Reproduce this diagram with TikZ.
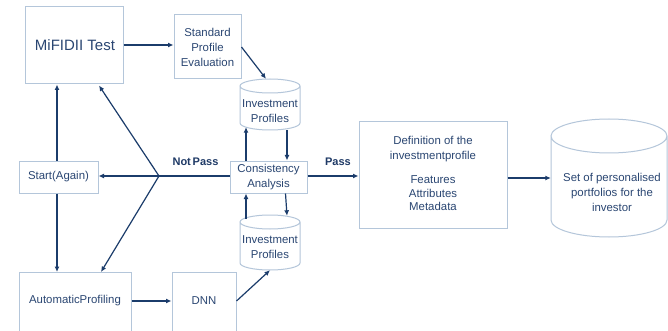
\documentclass[tikz,border=0pt]{standalone}
\usepackage{fontspec}
\setmainfont{Liberation Sans}
\usetikzlibrary{arrows.meta,calc}
\definecolor{bordercol}{HTML}{B4C6DA}
\definecolor{arrowcol}{HTML}{1B3C6B}
\definecolor{textcol}{HTML}{2A4672}
\definecolor{labcol}{HTML}{1F3A66}
\tikzset{
  box/.style={draw=bordercol, line width=1pt, fill=white, inner sep=0pt},
  txt/.style={text=textcol, align=center, inner sep=0pt, font=\fontsize{11.4}{15}\selectfont},
  bigtxt/.style={text=textcol, align=center, inner sep=0pt, font=\fontsize{15}{18}\selectfont},
  lab/.style={text=labcol, inner sep=0pt, font=\fontsize{11}{13}\selectfont\bfseries},
  cylarea/.style={inner sep=0pt},
  cyl/.style={draw=bordercol, line width=1pt, fill=white},
  arr/.style={draw=arrowcol, line width=1.2pt, -{Latex[length=5.5pt,width=5pt]}},
  ln/.style={draw=arrowcol, line width=1.2pt},
}
\begin{document}
\begin{tikzpicture}[x=1pt,y=1pt]
\useasboundingbox (0,0) rectangle (668,-331);
\clip (0,0) rectangle (668,-331);
\fill[white] (0,0) rectangle (668,-331);

% boxes
\node[box, minimum width=98, minimum height=77] (mifid) at (74,-45.5) {};
\node[bigtxt] (mifidt) at (75,-45) {MiFIDII Test};
\node[box, minimum width=67, minimum height=64, txt] (std) at (207.5,-47) {Standard\\Profile\\Evaluation};
\node[box, minimum width=79, minimum height=32, txt] (start) at (58.5,-177) {Start(Again)};
\node[box, minimum width=77, minimum height=32, txt] (cons) at (268.5,-177) {Consistency\\Analysis};
\node[box, minimum width=112, minimum height=73, anchor=north] (auto) at (75,-272) {};
\node[txt] (autot) at (75,-301) {AutomaticProfiling};
\node[box, minimum width=64, minimum height=73, anchor=north] (dnn) at (204,-272) {};
\node[txt] (dnnt) at (204,-301) {DNN};
\node[box, minimum width=148, minimum height=106] (def) at (433,-175) {};
\node[txt] (deft1) at (433,-149.5) {Definition of the\\investmentprofile};
\node[txt, font=\fontsize{11.4}{13.5}\selectfont] (deft2) at (433,-193.5) {Features\\Attributes\\Metadata};

% cylinders
\fill[white] (240,-86) -- (240,-123) arc[start angle=180,end angle=360,x radius=30,y radius=7] -- (300,-86) arc[start angle=0,end angle=180,x radius=30,y radius=7] -- cycle;
\draw[cyl] (240,-86) -- (240,-123) arc[start angle=180,end angle=360,x radius=30,y radius=7] -- (300,-86) arc[start angle=0,end angle=360,x radius=30,y radius=7];
\node[cylarea, minimum width=60, minimum height=51] (ip1) at (270,-104.5) {};
\node[txt] (ip1t) at (270,-111.5) {Investment\\Profiles};

\fill[white] (240,-222) -- (240,-263) arc[start angle=180,end angle=360,x radius=30,y radius=7] -- (300,-222) arc[start angle=0,end angle=180,x radius=30,y radius=7] -- cycle;
\draw[cyl] (240,-222) -- (240,-263) arc[start angle=180,end angle=360,x radius=30,y radius=7] -- (300,-222) arc[start angle=0,end angle=360,x radius=30,y radius=7];
\node[cylarea, minimum width=60, minimum height=55] (ip2) at (270,-242.5) {};
\node[txt] (ip2t) at (270,-247.5) {Investment\\Profiles};

\fill[white] (551,-136) -- (551,-220) arc[start angle=180,end angle=360,x radius=58,y radius=17] -- (667,-136) arc[start angle=0,end angle=180,x radius=58,y radius=17] -- cycle;
\draw[cyl] (551,-136) -- (551,-220) arc[start angle=180,end angle=360,x radius=58,y radius=17] -- (667,-136) arc[start angle=0,end angle=360,x radius=58,y radius=17];
\node[cylarea, minimum width=116, minimum height=118] (set) at (609,-178) {};
\node[txt] (sett) at (612,-192) {Set of personalised\\portfolios for the\\investor};

% connectors
\coordinate (j) at (159,-176);
\draw[arr] (mifid.east |- mifidt) -- (std.west |- mifidt);
\draw[arr] (std.east) -- ([xshift=-4pt]ip1.north);
\draw[arr] ([xshift=17pt]ip1.south) -- ([xshift=17pt]ip1.south |- cons.north);
\draw[arr] ([xshift=-24pt]ip1.south |- cons.north) -- ([xshift=-24pt,yshift=3pt]ip1.south);
\draw[arr] ([xshift=17pt]cons.south) -- ([xshift=17pt,yshift=-1pt]ip2.north);
\draw[arr] ([xshift=-24pt,yshift=-4pt]ip2.north) -- ([xshift=-24pt]ip2.north |- cons.south);
\draw[arr] (dnn.east |- dnnt) -- (ip2.south);
\draw[arr] (auto.east |- autot) -- (dnn.west |- autot);
\draw[arr] ([xshift=-1.5pt]start.north) -- ([xshift=-1.5pt]start.north |- mifid.south);
\draw[arr] ([xshift=-1.5pt]start.south) -- ([xshift=-1.5pt]start.south |- auto.north);
\draw[ln] (cons.west |- j) -- (j);
\draw[arr] (j) -- (start.east |- j);
\draw[arr] (j) -- ([xshift=25pt,yshift=-1pt]mifid.south);
\draw[arr] (j) -- ([xshift=26pt]auto.north);
\draw[arr] (cons.east |- j) -- (def.west |- j);
\draw[arr] (def.east |- set.west) -- (set.west);

% labels
\node[lab] (np) at (195.5,-162) {Not\,Pass};
\node[lab] (ps) at (338,-162) {Pass};
\end{tikzpicture}
\end{document}
